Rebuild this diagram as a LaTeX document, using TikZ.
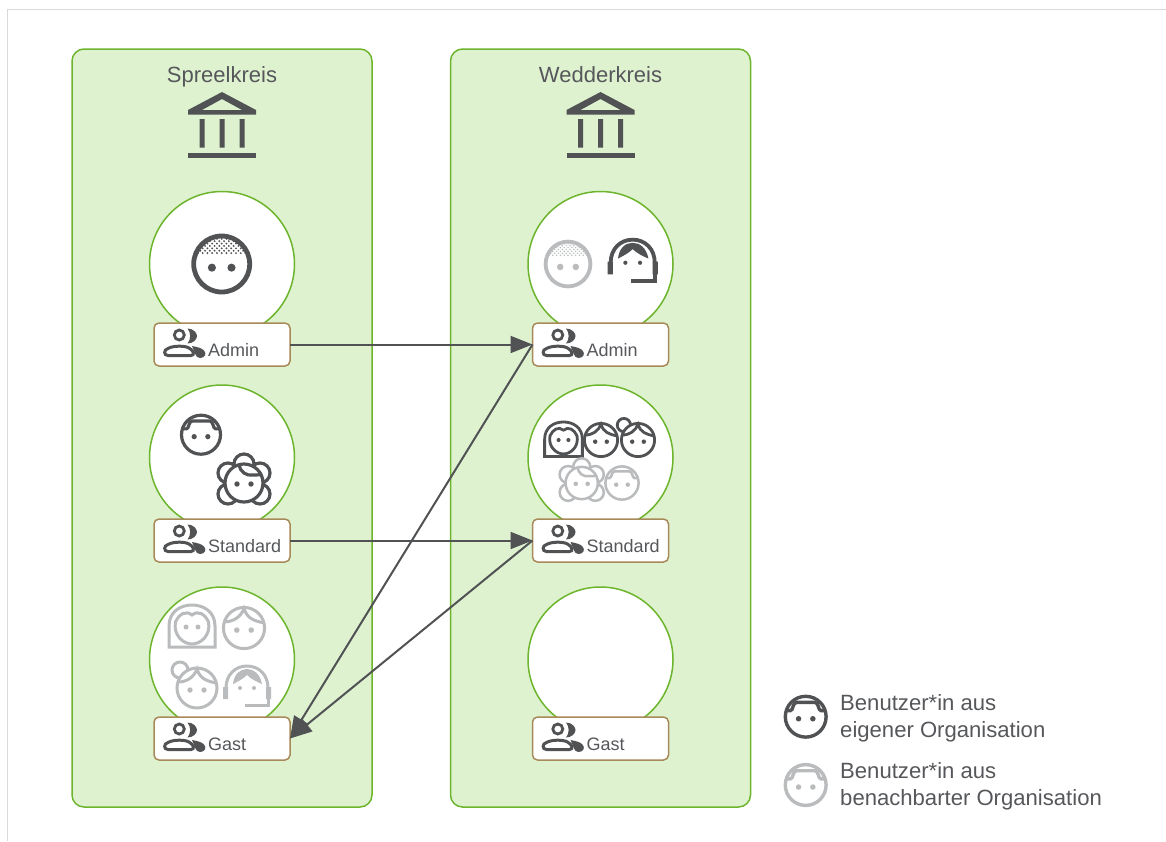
\documentclass[tikz,border=0pt]{standalone}
\usepackage{fontspec}
\setmainfont{Liberation Sans}
\usetikzlibrary{positioning,calc,arrows.meta}

\definecolor{inkdark}{HTML}{505254}
\definecolor{inkgrey}{HTML}{B9BBBD}
\definecolor{txtgrey}{HTML}{55575A}
\definecolor{orggreen}{HTML}{DFF2D0}
\definecolor{edgegreen}{HTML}{6CB52D}
\definecolor{edgebrown}{HTML}{A88A5A}
\definecolor{framegrey}{HTML}{D9D9D9}

\tikzset{
  orgbox/.style={draw=edgegreen, fill=orggreen, line width=1.5pt, rounded corners=12pt,
    minimum width=300pt, minimum height=758pt, inner sep=0pt, outer sep=0pt},
  orgtitle/.style={text=txtgrey, font=\fontsize{22}{26}\selectfont, inner sep=0pt},
  rolecircle/.style={circle, draw=edgegreen, fill=white, line width=1.5pt,
    minimum size=145pt, inner sep=0pt, outer sep=0pt},
  rolebox/.style={draw=edgebrown, fill=white, line width=1.5pt, rounded corners=5pt,
    minimum width=136pt, minimum height=43pt, inner sep=0pt, outer sep=0pt},
  roletext/.style={text=txtgrey, font=\fontsize{18}{20}\selectfont, inner sep=0pt, anchor=base west},
  legendtext/.style={text=txtgrey, font=\fontsize{22.1}{26.6}\selectfont, inner sep=0pt, anchor=west, align=left},
  rights/.style={draw=inkdark, line width=2pt, -{Triangle[length=22pt,width=17pt]}},
  % the little figures, all drawn around their own centre
  pics/malehead/.style 2 args={code={
    \draw[#1, line width=#2, fill=white] (0,0) circle[radius=20pt];
    \draw[#1, line width=#2] (-19,-6) -- (-15,-6) .. controls (-12,-6) and (-13,-14) .. (-9,-14) -- (9,-14)
      .. controls (13,-14) and (12,-6) .. (15,-6) -- (19,-6);
    \fill[#1] (-7,2) circle[radius=2.7pt] (7,2) circle[radius=2.7pt];
  }},
  pics/adminhead/.style 2 args={code={
    \foreach \r in {0,...,7}{
      \foreach \c in {-6,...,5}{
        \begin{scope}
          \clip (0,0) circle[radius=20pt];
          \fill[#1] ({\c*3.4+mod(\r,2)*1.7},{-7.8-\r*1.7}) circle[radius=.75pt];
        \end{scope}
      }
    }
    \draw[#1, line width=#2] (0,0) circle[radius=20pt];
    \fill[#1] (-7,2.6) circle[radius=2.9pt] (7,2.6) circle[radius=2.9pt];
  }},
  pics/curlyhead/.style 2 args={code={
    \draw[#1, line width=#2, fill=white] (0,-19) circle[radius=10pt] (-16,-10) circle[radius=10pt]
      (16,-10) circle[radius=10pt] (-16,11) circle[radius=10pt] (16,11) circle[radius=10pt];
    \draw[#1, line width=#2, fill=white] (0,0) circle[radius=19pt];
    \draw[#1, line width=#2] (-5,-18) .. controls (-4,-11) and (3,-7) .. (8,-8) .. controls (12,-8) and (16,-8) .. (18,-9);
    \fill[#1] (-7,1) circle[radius=2.7pt] (7,1) circle[radius=2.7pt];
  }},
  pics/longhead/.style 2 args={code={
    \draw[#1, line width=#2, fill=white] (-23,20) -- (-23,-1) .. controls (-23,-15) and (-12,-22) .. (0,-22)
      .. controls (12,-22) and (23,-15) .. (23,-1) -- (23,20) -- cycle;
    \draw[#1, line width=#2] (-16.5,-5) .. controls (-19,8) and (-9,17) .. (0,17) .. controls (9,17) and (19,8) .. (16.5,-5)
      .. controls (13,-13) and (6,-17) .. (0,-12) .. controls (-6,-17) and (-13,-13) .. (-16.5,-5) -- cycle;
    \fill[#1] (-6,0) circle[radius=2.5pt] (6,0) circle[radius=2.5pt];
  }},
  pics/partedhead/.style 2 args={code={
    \draw[#1, line width=#2, fill=white] (0,0) circle[radius=20pt];
    \draw[#1, line width=#2] (-19,-6) .. controls (-10,-6) and (-3,-11) .. (0,-19) .. controls (3,-9) and (10,-7) .. (19,-5);
    \fill[#1] (-7,2) circle[radius=2.7pt] (7,2) circle[radius=2.7pt];
  }},
  pics/bunhead/.style 2 args={code={
    \draw[#1, line width=#2, fill=white] (-17,-18) circle[radius=8pt];
    \draw[#1, line width=#2, fill=white] (0,0) circle[radius=20pt];
    \draw[#1, line width=#2] (-19,-6) .. controls (-10,-6) and (-3,-11) .. (0,-19) .. controls (3,-9) and (10,-7) .. (19,-5);
    \fill[#1] (-7,2) circle[radius=2.7pt] (7,2) circle[radius=2.7pt];
  }},
  pics/headsethead/.style 2 args={code={
    \draw[#1, line width=#2] (-21,1) .. controls (-21,-12) and (-12,-21) .. (0,-21) .. controls (12,-21) and (21,-12) .. (21,1);
    \fill[#1] (-24,0) rectangle (-19,12) (19,0) rectangle (24,12);
    \draw[#1, line width=#2] (21.5,12) -- (21.5,18) -- (-2,18);
    \fill[#1] (-14,-3) .. controls (-13,-13) and (-7,-18) .. (0,-18) .. controls (7,-18) and (13,-13) .. (15,-3)
      .. controls (10,-5) and (4,-8) .. (0,-12) .. controls (-4,-8) and (-10,-5) .. (-14,-3) -- cycle;
    \fill[#1] (-7,1) circle[radius=2pt] (7,1) circle[radius=2pt];
  }},
  pics/orgbuilding/.style={code={
    \fill[inkdark, even odd rule] (0,-33) -- (34,-15) -- (34,-10.5) -- (-34,-10.5) -- (-34,-15) -- cycle
      (0,-26) -- (-20,-15) -- (20,-15) -- cycle;
    \fill[inkdark] (-22.5,-6) rectangle (-17.5,22.7) (-2.5,-6) rectangle (2.5,22.7) (17.5,-6) rectangle (22.5,22.7);
    \fill[inkdark] (-34,27.7) rectangle (34,33);
  }},
  pics/rolesign/.style={code={
    \draw[inkdark, line width=2.8pt] (25.3,-9.5) circle[radius=5pt];
    \fill[inkdark] (33.5,-16) .. controls (40,-16) and (43,-11) .. (43,-8.5) .. controls (43,-5) and (39,-1) .. (33.5,-1)
      .. controls (37,-5) and (37,-12) .. (33.5,-16) -- cycle;
    \draw[inkdark, line width=3pt] (14,11) .. controls (9.5,11) and (9.5,5) .. (14,4) .. controls (19,1) and (31,1) .. (35,3.5)
      .. controls (40,6) and (41,11) .. (37,11) -- cycle;
    \fill[inkdark] (38,1.5) .. controls (43,2.5) and (48,3.5) .. (50,6) .. controls (53,9) and (51,13.5) .. (46,13.5)
      .. controls (41,13.5) and (41,7) .. (38,1.5) -- cycle;
  }},
}

\begin{document}
\begin{tikzpicture}[x=1pt, y=-1pt]
\useasboundingbox (0,0) rectangle (1166,841);
\draw[framegrey, line width=1pt] (7.5,841) -- (7.5,9.5) -- (1166,9.5);

% organisations
\node[orgbox] (spree) at (222,428) {};
\node[orgbox] (wedder) at (600.5,428) {};
\node[orgtitle, below=17.5pt of spree.north] (spreeTitle) {Spreelkreis};
\node[orgtitle, below=17.5pt of wedder.north] (wedderTitle) {Wedderkreis};
\pic at ($(spree.north)+(0,76)$) {orgbuilding};
\pic at ($(wedder.north)+(0,76)$) {orgbuilding};

% left column
\node[rolecircle, below=142.5pt of spree.north] (spreeAdminC) {};
\node[rolebox, below=-13.5pt of spreeAdminC] (spreeAdmin) {};
\node[rolecircle, below=19pt of spreeAdmin] (spreeStandardC) {};
\node[rolebox, below=-11pt of spreeStandardC] (spreeStandard) {};
\node[rolecircle, below=25pt of spreeStandard] (spreeGastC) {};
\node[rolebox, below=-15pt of spreeGastC] (spreeGast) {};

% right column
\node[rolecircle, below=142.5pt of wedder.north] (wedderAdminC) {};
\node[rolebox, below=-13.5pt of wedderAdminC] (wedderAdmin) {};
\node[rolecircle, below=19pt of wedderAdmin] (wedderStandardC) {};
\node[rolebox, below=-11pt of wedderStandardC] (wedderStandard) {};
\node[rolecircle, below=25pt of wedderStandard] (wedderGastC) {};
\node[rolebox, below=-15pt of wedderGastC] (wedderGast) {};

% badge signs and texts
\foreach \rolename/\txt in {spreeAdmin/Admin, spreeStandard/Standard, spreeGast/Gast,
                       wedderAdmin/Admin, wedderStandard/Standard, wedderGast/Gast}{
  \pic at (\rolename.west) {rolesign};
  \node[roletext] (\rolename Text) at ($(\rolename.west)+(54,11.5)$) {\txt};
}

% people
\pic[scale=1.4] at (221.7,264) {adminhead={inkdark}{4.8pt}};
\pic[scale=.975] at (201,434.7) {malehead={inkdark}{3.2pt}};
\pic at (244,483) {curlyhead={inkdark}{3.2pt}};
\pic at (192,627) {longhead={inkgrey}{3pt}};
\pic[scale=1.03] at (244,628) {partedhead={inkgrey}{3pt}};
\pic at (197,688) {bunhead={inkgrey}{3pt}};
\pic at (247,687) {headsethead={inkgrey}{3pt}};

\pic[scale=1.12] at (568,264) {adminhead={inkgrey}{3.8pt}};
\pic[scale=1.05] at (632.7,261.7) {headsethead={inkdark}{3.8pt}};
\pic[scale=.82] at (563.5,440) {longhead={inkdark}{2.8pt}};
\pic[scale=.83] at (601,440) {partedhead={inkdark}{2.8pt}};
\pic[scale=.83] at (638,440) {bunhead={inkdark}{2.8pt}};
\pic[scale=.85] at (581.7,483) {curlyhead={inkgrey}{2.5pt}};
\pic[scale=.83] at (622,483) {malehead={inkgrey}{2.5pt}};

% connect nodes
\draw[rights] (spreeAdmin) -- (wedderAdmin);
\draw[rights] (spreeStandard) -- (wedderStandard);
\draw[rights] (wedderAdmin.west) -- (spreeGast.east);
\draw[rights] (wedderStandard.west) -- (spreeGast.east);

% legend
\pic[scale=1.02] at (805.7,716.7) {malehead={inkdark}{3.4pt}};
\pic[scale=1.02] at (805.7,785) {malehead={inkgrey}{3.4pt}};
\node[legendtext] (legendOwn) at (840,718) {Benutzer*in aus\\eigener Organisation};
\node[legendtext] (legendNear) at (840,786.5) {Benutzer*in aus\\benachbarter Organisation};
\end{tikzpicture}
\end{document}
